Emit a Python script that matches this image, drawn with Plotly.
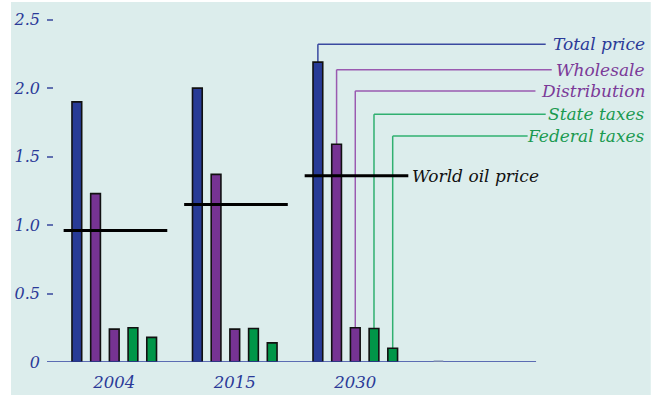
import plotly.graph_objects as go

years = ["2004", "2015", "2030"]
series = ["Total price", "Wholesale", "Distribution", "State taxes", "Federal taxes"]
total_price = [1.90, 2.00, 2.19]
wholesale = [1.23, 1.37, 1.59]
distribution = [0.24, 0.24, 0.25]
state_taxes = [0.25, 0.245, 0.245]
federal_taxes = [0.18, 0.14, 0.10]
world_oil_price = [0.96, 1.15, 1.36]
y_ticks = [0, 0.5, 1.0, 1.5, 2.0, 2.5]
y_tick_labels = ["0", "0.5", "1.0", "1.5", "2.0", "2.5"]

bar_colors = ["#283b96", "#763393", "#763393", "#009648", "#009648"]
text_colors = ["#2b3a98", "#7b3a98", "#7b3a98", "#1a9a50", "#1a9a50"]
leader_colors = ["#3a4aa0", "#9a5ab0", "#9a5ab0", "#30b070", "#30b070"]
values = [total_price, wholesale, distribution, state_taxes, federal_taxes]

xs = list(range(len(years)))
FONT = "DejaVu Serif"
BG = "#dcedec"

fig = go.Figure()
for name, vals, col in zip(series, values, bar_colors):
    fig.add_trace(go.Bar(
        x=xs, y=vals, name=name,
        marker=dict(color=col, line=dict(color="#111111", width=1.6)),
        showlegend=False,
    ))

# World oil price segments
wx, wy = [], []
for i, v in enumerate(world_oil_price):
    wx += [i - 0.42, i + 0.44, None]
    wy += [v, v, None]
fig.add_trace(go.Scatter(x=wx, y=wy, mode="lines",
                         line=dict(color="black", width=3), showlegend=False,
                         hoverinfo="skip"))

bargap = 0.224
slot = (1 - bargap) / len(series)
last = len(years) - 1

label_y = [2.32, 2.135, 1.98, 1.81, 1.65]
line_end = [3.58, 3.63, 3.495, 3.58, 3.43]
label_x = 4.42

shapes = [dict(type="rect", xref="paper", yref="paper", x0=-0.0595, x1=0.998,
               y0=-0.1, y1=1.011, fillcolor=BG, line=dict(width=0), layer="below")]
for k, (name, vals) in enumerate(zip(series, values)):
    cx = last + (k - 2) * slot
    shapes.append(dict(type="line", xref="x", yref="y", x0=cx, x1=cx,
                       y0=vals[last], y1=label_y[k],
                       line=dict(color=leader_colors[k], width=1.5), layer="below"))
    shapes.append(dict(type="line", xref="x", yref="y", x0=cx, x1=line_end[k],
                       y0=label_y[k], y1=label_y[k],
                       line=dict(color=leader_colors[k], width=1.5), layer="below"))
    fig.add_annotation(x=label_x, y=label_y[k], xref="x", yref="y",
                       text=name, showarrow=False, xanchor="right", yanchor="middle",
                       font=dict(family=FONT, size=17, color=text_colors[k],
                                 style="italic"))

fig.add_annotation(x=last + 0.455, y=world_oil_price[last], xref="x", yref="y",
                   text="World oil price", showarrow=False, xanchor="left",
                   yanchor="middle",
                   font=dict(family=FONT, size=17, color="#111111", style="italic"))

# x axis baseline
shapes.append(dict(type="line", xref="x", yref="y", x0=-0.558, x1=3.50, y0=0, y1=0,
                   line=dict(color="#3040a0", width=1.5), layer="above"))
# small stray tick on baseline
shapes.append(dict(type="line", xref="x", yref="y", x0=2.65, x1=2.73, y0=0, y1=0,
                   line=dict(color="#7a88b0", width=3), layer="above"))

fig.update_layout(
    width=658, height=395,
    margin=dict(l=47, r=6, t=6, b=33),
    paper_bgcolor="white", plot_bgcolor="rgba(0,0,0,0)",
    barmode="group", bargap=bargap, bargroupgap=0.48,
    shapes=shapes,
    xaxis=dict(range=[-0.558, 4.462], tickvals=xs, ticktext=years,
               showgrid=False, zeroline=False, showline=False, ticks="",
               automargin=False,
               tickfont=dict(family=FONT, size=16.5, color="#2b3a98", style="italic"),
               ticklabelstandoff=8),
    yaxis=dict(range=[0, 2.6], tickvals=y_ticks, ticktext=y_tick_labels,
               showgrid=False, zeroline=False, showline=False,
               automargin=False,
               ticks="inside", ticklen=6, tickwidth=1.5, tickcolor="#6070b0",
               tickfont=dict(family=FONT, size=16, color="#2b3a98", style="italic"),
               ticklabelstandoff=6),
)

fig.write_html("out.html", config={"displayModeBar": False},
               post_script="document.body.style.margin='0';document.body.style.padding='0';")
